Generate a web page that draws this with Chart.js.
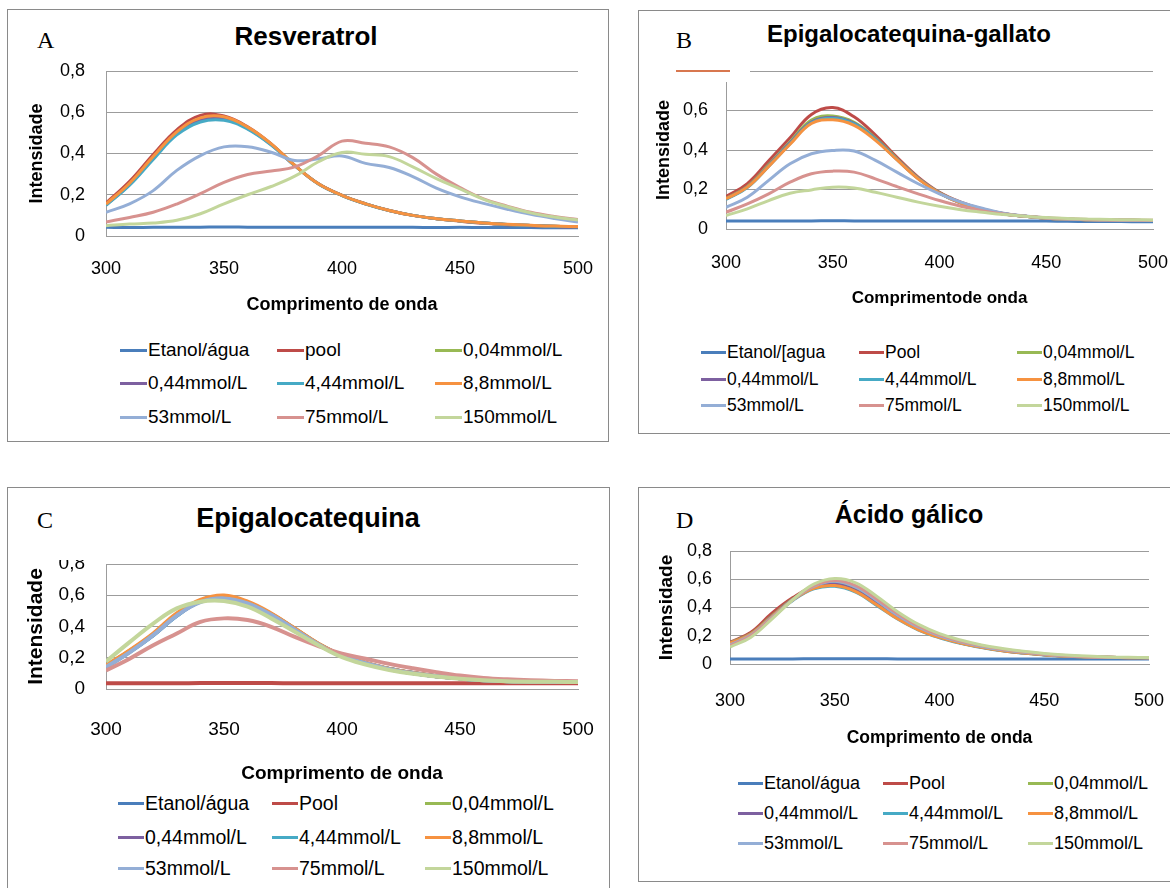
<!DOCTYPE html>
<html>
<head>
<meta charset="utf-8">
<script src="https://cdn.jsdelivr.net/npm/chart.js@4.4.0/dist/chart.umd.min.js"></script>
<style>
body { margin: 0; background: #fff; width: 1170px; height: 888px; position: relative; overflow: hidden; font-family: 'Liberation Sans', Arial, sans-serif; }
.box { position: absolute; border: 1px solid #8a8a8a; box-sizing: border-box; }
.cv { position: absolute; }
.ttl { position: absolute; font-weight: bold; text-align: center; white-space: nowrap; line-height: 30px; width: 500px; }
.let { position: absolute; font-family: 'Liberation Serif', 'Times New Roman', serif; line-height: 30px; }
.leg { position: absolute; white-space: nowrap; height: 20px; display: flex; align-items: center; }
.leg i { display: inline-block; height: 3px; margin-right: 1px; }
</style>
</head>
<body>
<script>
// wavelength axis (nm)
const wavelengths = [300, 310, 320, 330, 340, 350, 360, 370, 380, 390, 400, 410, 420, 430, 440, 450, 460, 470, 480, 490, 500];

// A - Resveratrol
const resEtanol = [0.042,0.041,0.042,0.042,0.043,0.044,0.043,0.042,0.042,0.042,0.042,0.042,0.042,0.042,0.041,0.042,0.041,0.041,0.041,0.040,0.040];
const resPool   = [0.160,0.265,0.395,0.515,0.585,0.582,0.530,0.447,0.342,0.253,0.197,0.156,0.124,0.100,0.084,0.072,0.062,0.055,0.050,0.046,0.044];
const res004    = [0.152,0.254,0.382,0.500,0.566,0.573,0.526,0.445,0.342,0.253,0.197,0.156,0.124,0.100,0.084,0.073,0.063,0.056,0.051,0.047,0.045];
const res044    = [0.150,0.250,0.377,0.496,0.560,0.568,0.522,0.443,0.341,0.253,0.197,0.156,0.124,0.100,0.084,0.073,0.063,0.056,0.051,0.047,0.045];
const res444    = [0.148,0.246,0.371,0.490,0.553,0.561,0.518,0.441,0.340,0.252,0.196,0.155,0.123,0.100,0.084,0.073,0.063,0.056,0.051,0.047,0.045];
const res88     = [0.155,0.256,0.385,0.505,0.573,0.578,0.528,0.447,0.342,0.253,0.197,0.156,0.124,0.100,0.084,0.073,0.063,0.057,0.052,0.048,0.046];
const res53     = [0.115,0.156,0.220,0.318,0.390,0.432,0.433,0.406,0.366,0.374,0.388,0.352,0.332,0.288,0.232,0.190,0.158,0.130,0.105,0.085,0.068];
const res75     = [0.068,0.090,0.115,0.155,0.205,0.260,0.298,0.315,0.335,0.390,0.460,0.450,0.432,0.380,0.300,0.235,0.180,0.145,0.115,0.095,0.080];
const res150    = [0.050,0.058,0.063,0.076,0.108,0.156,0.200,0.240,0.290,0.360,0.405,0.396,0.385,0.335,0.278,0.228,0.178,0.142,0.112,0.092,0.078];

// B - Epigalocatequina-gallato
const egcgEtanol = [0.040,0.041,0.040,0.041,0.041,0.042,0.041,0.041,0.041,0.041,0.041,0.041,0.041,0.040,0.040,0.040,0.039,0.038,0.038,0.037,0.037];
const egcgPool   = [0.165,0.230,0.345,0.462,0.580,0.615,0.568,0.475,0.364,0.263,0.186,0.136,0.102,0.078,0.064,0.055,0.050,0.047,0.045,0.044,0.043];
const egcg004    = [0.155,0.216,0.326,0.442,0.552,0.572,0.540,0.460,0.357,0.258,0.183,0.133,0.100,0.077,0.064,0.055,0.050,0.047,0.045,0.044,0.043];
const egcg044    = [0.152,0.213,0.321,0.436,0.542,0.565,0.535,0.456,0.354,0.256,0.182,0.132,0.099,0.077,0.064,0.055,0.050,0.047,0.045,0.044,0.043];
const egcg444    = [0.150,0.210,0.318,0.432,0.538,0.561,0.532,0.454,0.352,0.255,0.181,0.131,0.099,0.076,0.064,0.055,0.050,0.047,0.045,0.044,0.043];
const egcg88     = [0.153,0.212,0.317,0.429,0.534,0.553,0.525,0.449,0.351,0.254,0.181,0.131,0.098,0.076,0.064,0.055,0.050,0.047,0.045,0.044,0.043];
const egcg53     = [0.110,0.161,0.246,0.330,0.381,0.398,0.395,0.347,0.288,0.229,0.178,0.136,0.105,0.080,0.066,0.056,0.050,0.047,0.045,0.044,0.043];
const egcg75     = [0.085,0.127,0.178,0.237,0.280,0.293,0.288,0.254,0.215,0.178,0.144,0.115,0.093,0.076,0.065,0.057,0.052,0.048,0.046,0.045,0.044];
const egcg150    = [0.068,0.102,0.144,0.181,0.198,0.212,0.208,0.186,0.161,0.136,0.115,0.098,0.085,0.073,0.065,0.058,0.053,0.050,0.048,0.047,0.046];

// C - Epigalocatequina
const egcEtanol = [0.145,0.240,0.345,0.470,0.560,0.586,0.550,0.478,0.383,0.287,0.213,0.166,0.128,0.102,0.082,0.068,0.056,0.050,0.047,0.045,0.044];
const egcPool   = [0.037,0.037,0.037,0.037,0.038,0.039,0.038,0.038,0.037,0.037,0.037,0.037,0.037,0.037,0.037,0.037,0.037,0.037,0.037,0.037,0.037];
const egc004    = [0.148,0.243,0.350,0.476,0.563,0.590,0.553,0.480,0.385,0.288,0.214,0.166,0.128,0.102,0.082,0.068,0.056,0.050,0.047,0.045,0.044];
const egc044    = [0.146,0.241,0.347,0.473,0.561,0.587,0.551,0.479,0.384,0.287,0.213,0.166,0.128,0.102,0.082,0.068,0.056,0.050,0.047,0.045,0.044];
const egc444    = [0.140,0.236,0.345,0.470,0.560,0.585,0.552,0.479,0.384,0.287,0.213,0.166,0.128,0.102,0.082,0.068,0.056,0.050,0.047,0.045,0.044];
const egc88     = [0.150,0.247,0.355,0.484,0.570,0.598,0.559,0.484,0.387,0.290,0.215,0.168,0.129,0.103,0.082,0.069,0.056,0.050,0.048,0.046,0.045];
const egc53     = [0.140,0.235,0.345,0.470,0.556,0.580,0.548,0.475,0.380,0.285,0.212,0.165,0.127,0.101,0.081,0.068,0.056,0.050,0.047,0.045,0.044];
const egc75     = [0.118,0.194,0.280,0.355,0.430,0.452,0.441,0.398,0.333,0.275,0.226,0.194,0.161,0.133,0.108,0.086,0.071,0.062,0.056,0.052,0.050];
const egc150    = [0.176,0.300,0.419,0.516,0.559,0.563,0.527,0.452,0.366,0.280,0.204,0.157,0.122,0.097,0.080,0.066,0.056,0.050,0.047,0.046,0.045];

// D - Acido galico
const agEtanol = [0.036,0.036,0.036,0.036,0.037,0.038,0.037,0.037,0.036,0.036,0.036,0.036,0.036,0.036,0.036,0.036,0.036,0.036,0.036,0.036,0.036];
const agPool   = [0.155,0.225,0.360,0.470,0.550,0.568,0.525,0.430,0.325,0.245,0.190,0.150,0.120,0.096,0.079,0.065,0.055,0.050,0.047,0.045,0.044];
const ag004    = [0.150,0.215,0.342,0.460,0.545,0.570,0.528,0.432,0.328,0.248,0.192,0.152,0.121,0.097,0.080,0.066,0.056,0.050,0.047,0.046,0.045];
const ag044    = [0.148,0.212,0.338,0.456,0.540,0.565,0.522,0.428,0.326,0.246,0.190,0.150,0.120,0.096,0.079,0.065,0.055,0.050,0.047,0.045,0.044];
const ag444    = [0.145,0.210,0.332,0.450,0.532,0.550,0.508,0.415,0.318,0.240,0.186,0.147,0.117,0.093,0.077,0.064,0.054,0.049,0.046,0.045,0.044];
const ag88     = [0.148,0.212,0.336,0.454,0.536,0.555,0.513,0.419,0.320,0.242,0.188,0.148,0.118,0.094,0.078,0.065,0.055,0.050,0.047,0.045,0.044];
const ag53     = [0.135,0.205,0.330,0.455,0.550,0.585,0.545,0.450,0.345,0.260,0.200,0.158,0.126,0.100,0.083,0.069,0.058,0.051,0.048,0.046,0.045];
const ag75     = [0.130,0.200,0.325,0.455,0.555,0.592,0.555,0.460,0.355,0.268,0.206,0.162,0.130,0.104,0.086,0.071,0.060,0.052,0.048,0.046,0.045];
const ag150    = [0.120,0.190,0.318,0.455,0.565,0.605,0.575,0.480,0.370,0.280,0.215,0.170,0.135,0.110,0.090,0.075,0.064,0.056,0.050,0.047,0.046];

// legend labels (as written in each panel)
const labelsA = ['Etanol/água', 'pool', '0,04mmol/L', '0,44mmol/L', '4,44mmol/L', '8,8mmol/L', '53mmol/L', '75mmol/L', '150mmol/L'];
const labelsB = ['Etanol/[agua', 'Pool', '0,04mmol/L', '0,44mmol/L', '4,44mmol/L', '8,8mmol/L', '53mmol/L', '75mmol/L', '150mmol/L'];
const labelsC = ['Etanol/água', 'Pool', '0,04mmol/L', '0,44mmol/L', '4,44mmol/L', '8,8mmol/L', '53mmol/L', '75mmol/L', '150mmol/L'];
const labelsD = ['Etanol/água', 'Pool', '0,04mmol/L', '0,44mmol/L', '4,44mmol/L', '8,8mmol/L', '53mmol/L', '75mmol/L', '150mmol/L'];

const yTicks = [0, 0.2, 0.4, 0.6, 0.8];

const seriesColors = ['#4A7EBB', '#BE4B48', '#98B954', '#7D60A0', '#46AAC5', '#F69240', '#94AED6', '#D7928F', '#C3D69B'];
const gridColor = '#9c9c9c';

Chart.defaults.font.family = "'Liberation Sans', Arial, sans-serif";
Chart.defaults.color = '#000';

// B has a white patch over the top-left of the plot and a stray short line
const patchB = {
  id: 'patchB',
  afterDraw(chart) {
    const ctx = chart.ctx, a = chart.chartArea;
    ctx.save();
    ctx.fillStyle = '#fff';
    ctx.fillRect(a.left - 2, a.top - 3, 26, 14);
    ctx.strokeStyle = '#D8774F';
    ctx.lineWidth = 2;
    ctx.beginPath();
    ctx.moveTo(a.left - 50, a.top);
    ctx.lineTo(a.left + 4, a.top);
    ctx.stroke();
    ctx.restore();
  }
};

// C has its top tick label cut off
const patchC = {
  id: 'patchC',
  afterDraw(chart) {
    const ctx = chart.ctx, a = chart.chartArea;
    ctx.save();
    ctx.fillStyle = '#fff';
    ctx.fillRect(0, 0, a.left - 2, a.top - 4);
    ctx.restore();
  }
};

const panels = [
  { key: 'A', title: 'Resveratrol', xTitle: 'Comprimento de onda', labels: labelsA,
    series: [resEtanol, resPool, res004, res044, res444, res88, res53, res75, res150],
    box: [7, 9, 602, 433], cv: [8, 60, 600, 262], padTop: 11, padRight: 30,
    yAxisW: 98, yTitleSize: 18, yTitlePad: 18, yTickPad: 21,
    xAxisH: 86, xTickPad: 22, xTitleSize: 18, xTitlePad: 6, tickSize: 18, lw: 3,
    ttl: [306, 21, 26], let: [37, 25], legRows: [350, 383, 417], legCols: [120, 277, 435], legLine: 27, legSize: 19,
    hideTop: false, patch: null },
  { key: 'B', title: 'Epigalocatequina-gallato', xTitle: 'Comprimentode onda', labels: labelsB,
    series: [egcgEtanol, egcgPool, egcg004, egcg044, egcg444, egcg88, egcg53, egcg75, egcg150],
    box: [638, 10, 540, 424], cv: [639, 55, 531, 260], padTop: 16, padRight: 17,
    yAxisW: 87, yTitleSize: 18, yTitlePad: 14, yTickPad: 18,
    xAxisH: 86, xTickPad: 23, xTitleSize: 17, xTitlePad: 6, tickSize: 18, lw: 3,
    ttl: [909, 19, 24], let: [676, 25], legRows: [352, 379, 405], legCols: [701, 859, 1017], legLine: 25, legSize: 17.5,
    hideTop: true, patch: patchB },
  { key: 'C', title: 'Epigalocatequina', xTitle: 'Comprimento de onda', labels: labelsC,
    series: [egcEtanol, egcPool, egc004, egc044, egc444, egc88, egc53, egc75, egc150],
    box: [7, 487, 603, 420], cv: [8, 540, 600, 250], padTop: 24, padRight: 30,
    yAxisW: 98, yTitleSize: 21, yTitlePad: 16, yTickPad: 21,
    xAxisH: 101, xTickPad: 29, xTitleSize: 19, xTitlePad: 5, tickSize: 19, lw: 4,
    ttl: [308, 503, 27], let: [37, 505], legRows: [803, 837, 868], legCols: [118, 272, 425], legLine: 26, legSize: 19.5,
    hideTop: false, patch: patchC },
  { key: 'D', title: 'Ácido gálico', xTitle: 'Comprimento de onda', labels: labelsD,
    series: [agEtanol, agPool, ag004, ag044, ag444, ag88, ag53, ag75, ag150],
    box: [638, 487, 540, 395], cv: [639, 540, 531, 215], padTop: 11, padRight: 21,
    yAxisW: 91, yTitleSize: 19, yTitlePad: 16, yTickPad: 18,
    xAxisH: 91, xTickPad: 26, xTitleSize: 17.5, xTitlePad: 6, tickSize: 18, lw: 3,
    ttl: [909, 499, 25], let: [676, 505], legRows: [783, 813, 843], legCols: [738, 883, 1028], legLine: 25, legSize: 18,
    hideTop: false, patch: null }
];

function el(tag, cls, css, text) {
  const e = document.createElement(tag);
  if (cls) e.className = cls;
  Object.assign(e.style, css);
  if (text !== undefined) e.textContent = text;
  document.body.appendChild(e);
  return e;
}

function tickLabel(v, hideTop) {
  if (Math.abs(v) < 1e-9) return '0';
  if (hideTop && Math.abs(v - 0.8) < 1e-6) return '';
  return v.toFixed(1).replace('.', ',');
}

panels.forEach(p => {
  el('div', 'box', { left: p.box[0] + 'px', top: p.box[1] + 'px', width: p.box[2] + 'px', height: p.box[3] + 'px' });
  el('div', 'ttl', { left: (p.ttl[0] - 250) + 'px', top: p.ttl[1] + 'px', fontSize: p.ttl[2] + 'px' }, p.title);
  el('div', 'let', { left: p.let[0] + 'px', top: p.let[1] + 'px', fontSize: '24px' }, p.key);

  const wrap = el('div', 'cv', { left: p.cv[0] + 'px', top: p.cv[1] + 'px', width: p.cv[2] + 'px', height: p.cv[3] + 'px' });
  const canvas = document.createElement('canvas');
  wrap.appendChild(canvas);

  const n = p.series.length;
  new Chart(canvas, {
    type: 'line',
    data: {
      datasets: p.series.map((vals, i) => ({
        label: p.labels[i],
        data: vals.map((v, j) => ({ x: wavelengths[j], y: v })),
        borderColor: seriesColors[i],
        backgroundColor: seriesColors[i],
        borderWidth: p.lw,
        pointRadius: 0,
        tension: 0.4,
        fill: false,
        order: n - i
      }))
    },
    options: {
      responsive: true,
      maintainAspectRatio: false,
      animation: false,
      layout: { padding: { top: p.padTop, right: p.padRight, left: 0, bottom: 0 } },
      plugins: { legend: { display: false }, tooltip: { enabled: false } },
      scales: {
        x: {
          type: 'linear', min: wavelengths[0], max: wavelengths[wavelengths.length - 1],
          ticks: { stepSize: 50, padding: 0, font: { size: p.tickSize }, maxRotation: 0, autoSkip: false },
          grid: { display: false, drawTicks: true, tickLength: p.xTickPad, tickColor: 'rgba(0,0,0,0)' },
          border: { color: gridColor },
          title: { display: true, text: p.xTitle, font: { size: p.xTitleSize, weight: 'bold' }, padding: { top: 0, bottom: p.xTitlePad } },
          afterFit: s => { s.height = p.xAxisH; }
        },
        y: {
          min: yTicks[0], max: yTicks[yTicks.length - 1],
          afterBuildTicks: s => { s.ticks = yTicks.map(v => ({ value: v })); },
          ticks: { padding: 0, autoSkip: false, font: { size: p.tickSize }, callback: v => tickLabel(v, p.hideTop) },
          grid: { color: gridColor, drawTicks: true, tickLength: p.yTickPad, tickColor: 'rgba(0,0,0,0)' },
          border: { color: gridColor },
          title: { display: true, text: 'Intensidade', font: { size: p.yTitleSize, weight: 'bold' }, padding: { top: p.yTitlePad, bottom: 0 } },
          afterFit: s => { s.width = p.yAxisW; }
        }
      }
    },
    plugins: p.patch ? [p.patch] : []
  });

  // legend, 3 columns
  p.labels.forEach((name, i) => {
    const item = el('div', 'leg', {
      left: p.legCols[i % 3] + 'px',
      top: (p.legRows[Math.floor(i / 3)] - 10) + 'px',
      fontSize: p.legSize + 'px'
    });
    const line = document.createElement('i');
    line.style.width = p.legLine + 'px';
    line.style.background = seriesColors[i];
    item.appendChild(line);
    item.appendChild(document.createTextNode(name));
  });
});
</script>
</body>
</html>
